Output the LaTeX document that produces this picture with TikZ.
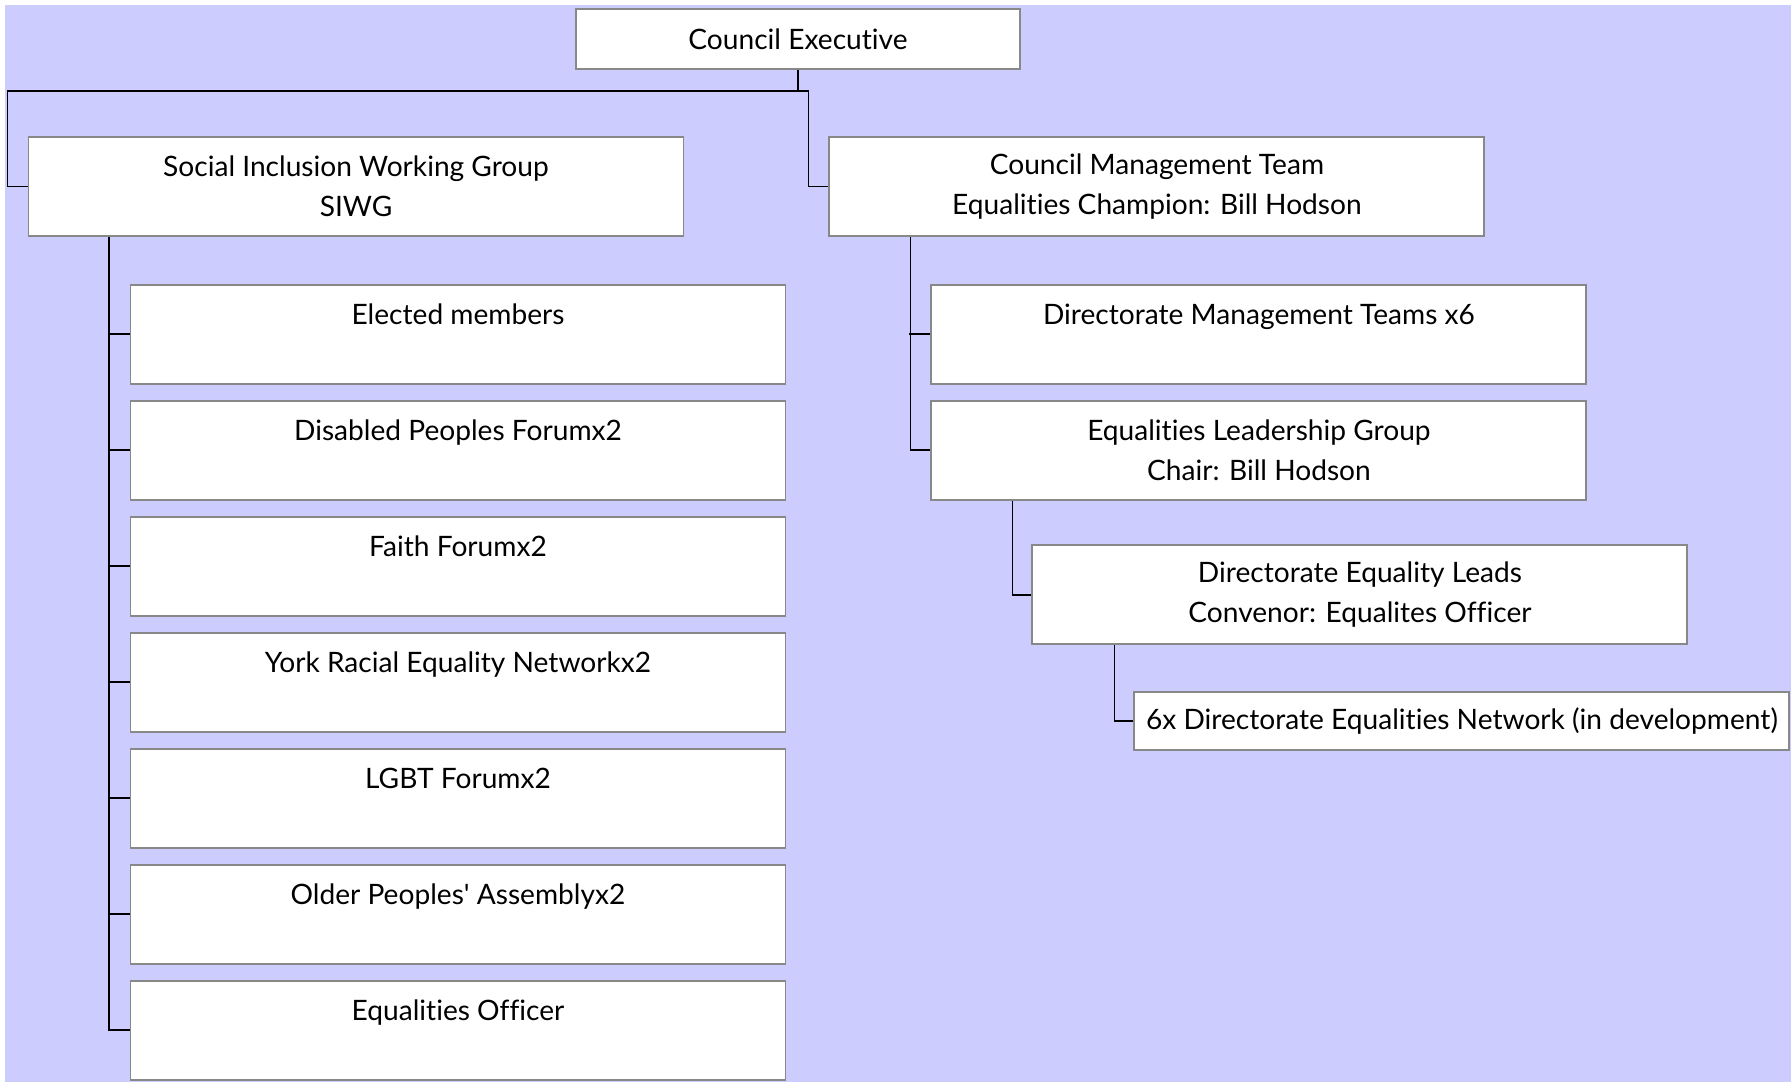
\documentclass[tikz,border=0pt]{standalone}
\usepackage{fontspec}
\setmainfont{Lato}[Ligatures=NoCommon]
\usepackage{xcolor}
\usepackage{tikz}
\usetikzlibrary{positioning,calc}
\definecolor{lavender}{HTML}{CCCCFF}
\definecolor{boxline}{HTML}{888888}

\begin{document}
\begin{tikzpicture}[
  node distance=0.30cm,
  unit/.style={rectangle, draw=boxline, fill=white, line width=1.1pt, inner sep=0pt,
    minimum width=13.1cm, minimum height=1.98cm, align=center,
    font=\fontsize{16}{22.8}\selectfont},
  link/.style={draw=black, line width=1.1pt},
]
  \useasboundingbox (0,0) rectangle (35.82,-21.64);
  \fill[lavender] (0.1,-0.1) rectangle (35.82,-21.64);

  \node[unit, minimum width=8.88cm, minimum height=1.2cm] (exec) at (15.96,-0.78) {Council Executive};

  \node[unit] (siwg) at (7.12,-3.73) {Social Inclusion Working Group\\SIWG};
  \node[unit, right=2.88cm of siwg] (cmt) {Council Management Team\\Equalities Champion: Bill Hodson};

  % SIWG members
  \node[unit, anchor=north west] (elected) at ([shift={(2.04,-0.94)}]siwg.south west) {Elected members\\~};
  \node[unit, below=of elected] (disabled) {Disabled Peoples Forumx2\\~};
  \node[unit, below=of disabled] (faith) {Faith Forumx2\\~};
  \node[unit, below=of faith] (racial) {York Racial Equality Networkx2\\~};
  \node[unit, below=of racial] (lgbt) {LGBT Forumx2\\~};
  \node[unit, below=of lgbt] (older) {Older Peoples\textquotesingle\ Assemblyx2\\~};
  \node[unit, below=of older] (officer) {Equalities Officer\\~};

  % management side
  \node[unit, anchor=north west] (dmt) at ([shift={(2.04,-0.94)}]cmt.south west) {Directorate Management Teams x6\\~};
  \node[unit, below=of dmt] (elg) {Equalities Leadership Group\\Chair: Bill Hodson};
  \node[unit, anchor=north west] (del) at ([shift={(2.02,-0.87)}]elg.south west) {Directorate Equality Leads\\Convenor: Equalites Officer};
  \node[unit, anchor=north west, minimum height=1.16cm] (network) at ([shift={(2.04,-0.92)}]del.south west) {6x Directorate Equalities Network (in development)};

  \coordinate (bus) at ([yshift=-0.42cm]exec.south);
  \draw[link] (exec.south) -- (bus);
  \draw[link] (siwg.west) -- ++(-0.4,0) |- (bus) -| ([xshift=-0.4cm]cmt.west) -- (cmt.west);

  \draw[link] ([xshift=1.62cm]siwg.south west) |- (officer.west);
  \foreach \k in {elected,disabled,faith,racial,lgbt,older}
    \draw[link] (\k.west) -- ++(-0.42,0);

  \draw[link] ([xshift=1.64cm]cmt.south west) |- (elg.west);
  \draw[link] (dmt.west) -- ++(-0.42,0);
  \draw[link] ([xshift=1.64cm]elg.south west) |- (del.west);
  \draw[link] ([xshift=1.66cm]del.south west) |- (network.west);
\end{tikzpicture}
\end{document}
